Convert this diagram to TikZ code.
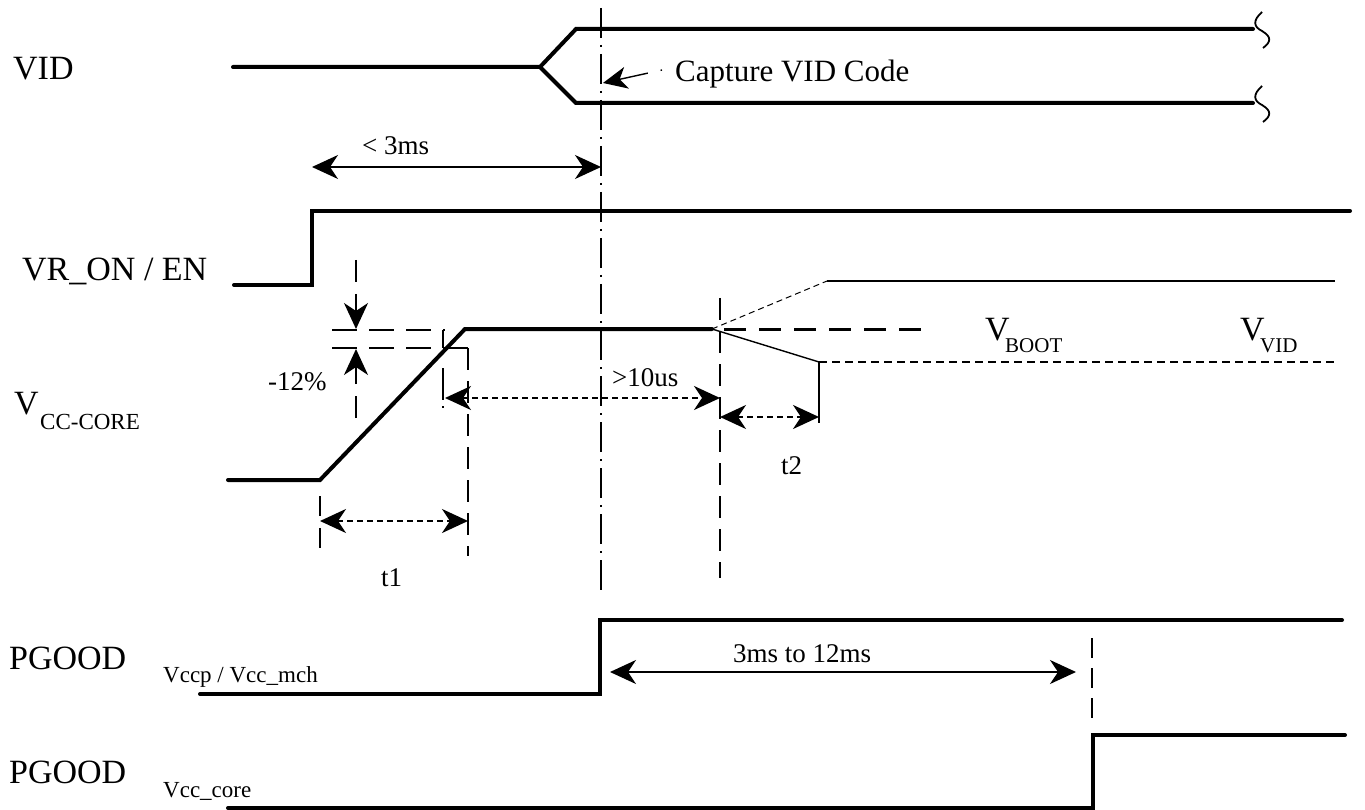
\documentclass[tikz,border=0pt]{standalone}
\usepackage{fontspec}
\setmainfont{Liberation Serif}
\usetikzlibrary{arrows.meta}
\begin{document}
\begin{tikzpicture}[x=1pt,y=-1pt,
  sig/.style={line width=4pt, line cap=round, line join=miter},
  thinl/.style={line width=1.4pt},
  tip/.style={-{Stealth[length=26pt,width=24pt,inset=8pt]}},
  tips/.style={{Stealth[length=26pt,width=24pt,inset=8pt]}-{Stealth[length=26pt,width=24pt,inset=8pt]}},
  longdash/.style={line width=2pt, dash pattern=on 22pt off 11pt},
  dotdash/.style={line width=2.4pt, dash pattern=on 6pt off 4pt},
  dashdot/.style={line width=2pt, dash pattern=on 30pt off 7pt on 2pt off 7pt},
  big/.style={font=\fontsize{34}{40}\selectfont, inner sep=0pt, anchor=base west},
  mid/.style={font=\fontsize{31}{36}\selectfont, inner sep=0pt, anchor=base west},
  ann/.style={font=\fontsize{27}{32}\selectfont, inner sep=0pt, anchor=base west},
  sub/.style={font=\fontsize{23}{28}\selectfont, inner sep=0pt, anchor=base west},
  vsub/.style={font=\fontsize{21}{25}\selectfont, inner sep=0pt, anchor=base west}]
\useasboundingbox (0,0) rectangle (1365,810);

% ---------- labels ----------
\node[big] (lvid) at (13,80) {VID};
\node[big] (len) at (22,280) {VR\_ON / EN};
\node[big] (lvcc) at (14,414) {V};
\node[sub] (lvccs) at (40,429) {CC-CORE};
\node[big] (lpg1) at (9,669) {PGOOD};
\node[sub] (lpg1s) at (163,682) {Vccp / Vcc\_mch};
\node[big] (lpg2) at (9,783) {PGOOD};
\node[sub] (lpg2s) at (163,797) {Vcc\_core};

% ---------- VID ----------
\coordinate (v0) at (233,67);
\coordinate (vf) at (540,67);
\coordinate (vu) at (576,29);
\coordinate (vue) at (1253,29);
\coordinate (vl) at (576,103);
\coordinate (vle) at (1253,103);
\draw[sig] (v0) -- (vf) -- (vu) -- (vue);
\draw[sig] (vf) -- (vl) -- (vle);
\coordinate (sq1a) at (1262,12);
\coordinate (sq1b) at (1262,31);
\coordinate (sq1c) at (1263,48);
\coordinate (sq2a) at (1262,86);
\coordinate (sq2b) at (1262,105);
\coordinate (sq2c) at (1263,122);
\draw[line width=1.8pt] (sq1a) .. controls (1252,21) and (1254,27) .. (sq1b) .. controls (1272,37) and (1271,42) .. (sq1c);
\draw[line width=1.8pt] (sq2a) .. controls (1252,95) and (1254,101) .. (sq2b) .. controls (1272,111) and (1271,116) .. (sq2c);

% main capture line
\coordinate (m1) at (601,8);
\coordinate (m2) at (601,590);
\draw[dashdot] (m1) -- (m2);

% capture arrow
\coordinate (ct0) at (662,70);
\coordinate (ct1) at (603,83);
\draw[thinl, dash pattern=on 1.5pt off 13pt on 80pt, -{Stealth[length=24pt,width=22pt,inset=7pt]}] (ct0) -- (ct1);
\node[mid] (cap) at (675,82) {Capture VID Code};

% < 3ms
\coordinate (a3l) at (312,167);
\coordinate (a3r) at (601,167);
\draw[thinl, tips] (a3l) -- (a3r);
\node[ann] (l3ms) at (362,155) {< 3ms};

% ---------- VR_ON / EN ----------
\coordinate (e0) at (234,285);
\coordinate (e1) at (312,285);
\coordinate (e2) at (312,211);
\coordinate (e3) at (1350,211);
\draw[sig] (e0) -- (e1) -- (e2) -- (e3);

% ---------- VCC-CORE ----------
\coordinate (c0) at (228,480);
\coordinate (c1) at (320,480);
\coordinate (c2) at (465,329);
\coordinate (c3) at (712,329);
\coordinate (c4) at (819,362);
\coordinate (c5) at (827,281);
\coordinate (c6) at (1335,281);
\coordinate (c7) at (1335,362);
\coordinate (c8a) at (724,329);
\coordinate (c8) at (930,329);
\draw[sig] (c0) -- (c1) -- (c2) -- (c3);
\draw[thinl] (c3) -- (c4);
\draw[line width=1pt, dash pattern=on 6pt off 4pt] (c3) -- (c5);
\draw[line width=1.2pt] (c5) -- (c6);
\draw[line width=1.2pt, dash pattern=on 8pt off 5pt] (c4) -- (c7);
\draw[line width=3pt, dash pattern=on 22pt off 13pt] (c8a) -- (c8);
\node[big] (lvb) at (985,340) {V};
\node[vsub] (lvbs) at (1005,352) {BOOT};
\node[big] (lvv) at (1240,340) {V};
\node[vsub] (lvvs) at (1260,352) {VID};

% -12% marks
\coordinate (h1a) at (332,330);
\coordinate (h1b) at (445,330);
\coordinate (h2a) at (332,348);
\coordinate (h2b) at (468,348);
\coordinate (h2c) at (468,556);
\draw[line width=2pt, dash pattern=on 25pt off 12pt] (h1a) -- (h1b);
\draw[line width=2pt, dash pattern=on 25pt off 12pt] (h2a) -- (h2b);
\draw[longdash] (h2b) -- (h2c);
\coordinate (k4a) at (443,330);
\coordinate (k4b) at (443,409);
\draw[line width=2pt, dash pattern=on 18pt off 20pt on 32pt off 6pt on 2pt off 20pt] (k4a) -- (k4b);
\coordinate (d0) at (356,260);
\coordinate (d1) at (356,329);
\coordinate (u0) at (356,418);
\coordinate (u1) at (356,349);
\draw[line width=2pt, dash pattern=on 22pt off 12pt, tip] (d0) -- (d1);
\draw[line width=2pt, dash pattern=on 22pt off 12pt, tip] (u0) -- (u1);
\node[ann] (l12) at (268,390) {-12\%};

% >10us, t1, t2
\coordinate (t10l) at (445,398);
\coordinate (t10r) at (720,398);
\draw[dotdash, tips] (t10l) -- (t10r);
\node[ann] (l10) at (612,386) {>10us};
\coordinate (k0) at (720,298);
\coordinate (k1) at (720,578);
\draw[longdash] (k0) -- (k1);
\coordinate (k2a) at (819,362);
\coordinate (k2b) at (819,423);
\draw[line width=2pt] (k2a) -- (k2b);
\coordinate (t2l) at (720,417);
\coordinate (t2r) at (819,417);
\draw[dotdash, tips] (t2l) -- (t2r);
\node[ann] (lt2) at (781,474) {t2};
\coordinate (k3a) at (320,496);
\coordinate (k3b) at (320,552);
\draw[line width=2pt, dash pattern=on 20pt off 12pt] (k3a) -- (k3b);
\coordinate (t1l) at (320,521);
\coordinate (t1r) at (468,521);
\draw[dotdash, tips] (t1l) -- (t1r);
\node[ann] (lt1) at (381,586) {t1};

% ---------- PGOOD Vccp ----------
\coordinate (p0) at (200,694);
\coordinate (p1) at (600,694);
\coordinate (p2) at (600,620);
\coordinate (p3) at (1342,620);
\draw[sig] (p0) -- (p1) -- (p2) -- (p3);
\coordinate (q0) at (610,672);
\coordinate (q1) at (1076,672);
\draw[thinl, tips] (q0) -- (q1);
\node[ann] (l312) at (733,662) {3ms to 12ms};
\coordinate (r0) at (1092,638);
\coordinate (r1) at (1092,726);
\draw[line width=2pt, dash pattern=on 20pt off 10pt] (r0) -- (r1);

% ---------- PGOOD Vcc_core ----------
\coordinate (g0) at (228,808);
\coordinate (g1) at (1093,808);
\coordinate (g2) at (1093,735);
\coordinate (g3) at (1345,735);
\draw[sig] (g0) -- (g1) -- (g2) -- (g3);
\end{tikzpicture}
\end{document}
